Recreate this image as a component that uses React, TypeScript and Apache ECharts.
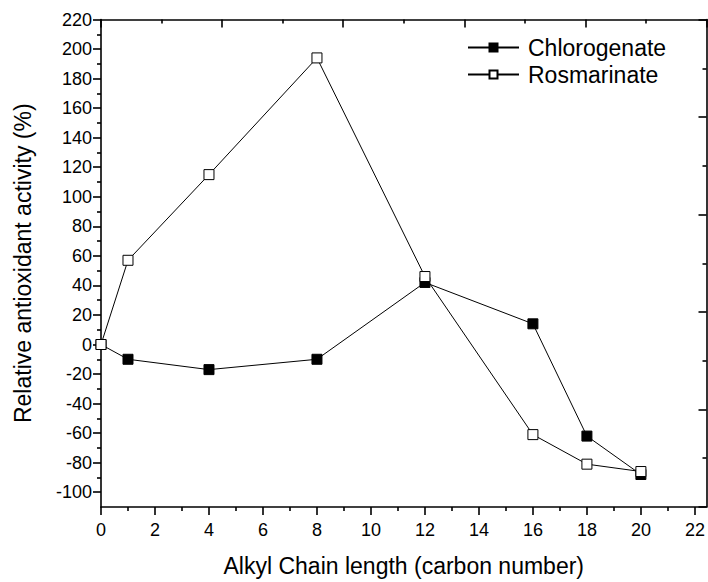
import React, { useEffect, useRef } from "react";
import * as echarts from "echarts";

const xValues = [0, 1, 4, 8, 12, 16, 18, 20];
const chlorogenate = [0, -10, -17, -10, 42, 14, -62, -88];
const rosmarinate = [0, 57, 115, 194, 46, -61, -81, -86];
const xTickValues = [0, 2, 4, 6, 8, 10, 12, 14, 16, 18, 20, 22];
const yTickValues = [-100, -80, -60, -40, -20, 0, 20, 40, 60, 80, 100, 120, 140, 160, 180, 200, 220];

export default function App() {
  const ref = useRef<HTMLDivElement>(null);
  useEffect(() => {
    if (!ref.current) return;
    const chart = echarts.init(ref.current, null, { renderer: "svg" });
    const font = "Liberation Sans, Arial, sans-serif";
    const axisLine = { show: true, onZero: false, lineStyle: { color: "#000", width: 1.6 } };
    const tickStyle = { color: "#000", width: 1.6 };
    chart.setOption({
      animation: false,
      backgroundColor: "#fff",
      grid: { left: 101, right: 1.5, top: 19.5, bottom: 73.3, containLabel: false },
      legend: {
        orient: "vertical",
        left: 467,
        top: 36,
        padding: 0,
        itemWidth: 51,
        itemHeight: 10,
        itemGap: 4,
        textStyle: { fontFamily: font, fontSize: 23, color: "#000", padding: [0, 0, 0, 4] },
        data: ["Chlorogenate", "Rosmarinate"],
      },
      xAxis: [
        {
          type: "value",
          position: "bottom",
          min: 0,
          max: 22.43,
          interval: 2,
          axisLine,
          splitLine: { show: false },
          axisTick: { show: true, length: 8, customValues: xTickValues, lineStyle: tickStyle },
          minorTick: { show: true, splitNumber: 2, length: 4, lineStyle: tickStyle },
          axisLabel: { customValues: xTickValues, margin: 14, fontFamily: font, fontSize: 18, color: "#000" },
          name: "Alkyl Chain length (carbon number)",
          nameLocation: "middle",
          nameGap: 47,
          nameTextStyle: { fontFamily: font, fontSize: 23, color: "#000" },
        },
        {
          type: "value",
          position: "top",
          min: 0,
          max: 10,
          interval: 2,
          axisLine,
          splitLine: { show: false },
          axisTick: { show: true, inside: true, length: 8, lineStyle: tickStyle },
          minorTick: { show: true, splitNumber: 2, length: 4, lineStyle: tickStyle },
          axisLabel: { show: false },
        },
      ],
      yAxis: [
        {
          type: "value",
          position: "left",
          min: -110,
          max: 220,
          minInterval: 20,
          maxInterval: 20,
          splitNumber: 16,
          axisLine,
          splitLine: { show: false },
          axisTick: { show: true, length: 8, customValues: yTickValues, lineStyle: tickStyle },
          minorTick: { show: true, splitNumber: 2, length: 4, lineStyle: tickStyle },
          axisLabel: { customValues: yTickValues, margin: 9, fontFamily: font, fontSize: 18, color: "#000" },
          name: "Relative antioxidant activity (%)",
          nameLocation: "middle",
          nameGap: 67,
          nameTextStyle: { fontFamily: font, fontSize: 23, color: "#000" },
        },
        {
          type: "value",
          position: "right",
          min: 0,
          max: 10,
          interval: 2,
          axisLine,
          splitLine: { show: false },
          axisTick: { show: true, inside: true, length: 8, lineStyle: tickStyle },
          minorTick: { show: true, splitNumber: 2, length: 4, lineStyle: tickStyle },
          axisLabel: { show: false },
        },
      ],
      series: [
        {
          name: "Chlorogenate",
          type: "line",
          xAxisIndex: 0,
          yAxisIndex: 0,
          data: xValues.map((x, i) => [x, chlorogenate[i]]),
          symbol: "rect",
          symbolSize: 10,
          lineStyle: { color: "#000", width: 1 },
          itemStyle: { color: "#000", borderColor: "#000", borderWidth: 1 },
          z: 2,
        },
        {
          name: "Rosmarinate",
          type: "line",
          xAxisIndex: 0,
          yAxisIndex: 0,
          data: xValues.map((x, i) => [x, rosmarinate[i]]),
          symbol: "rect",
          symbolSize: 10,
          lineStyle: { color: "#000", width: 1 },
          itemStyle: { color: "#fff", borderColor: "#000", borderWidth: 1 },
          z: 3,
        },
      ],
    });
    return () => chart.dispose();
  }, []);
  return <div ref={ref} style={{ position: "absolute", left: 0, top: 0, width: 708, height: 582 }} />;
}
